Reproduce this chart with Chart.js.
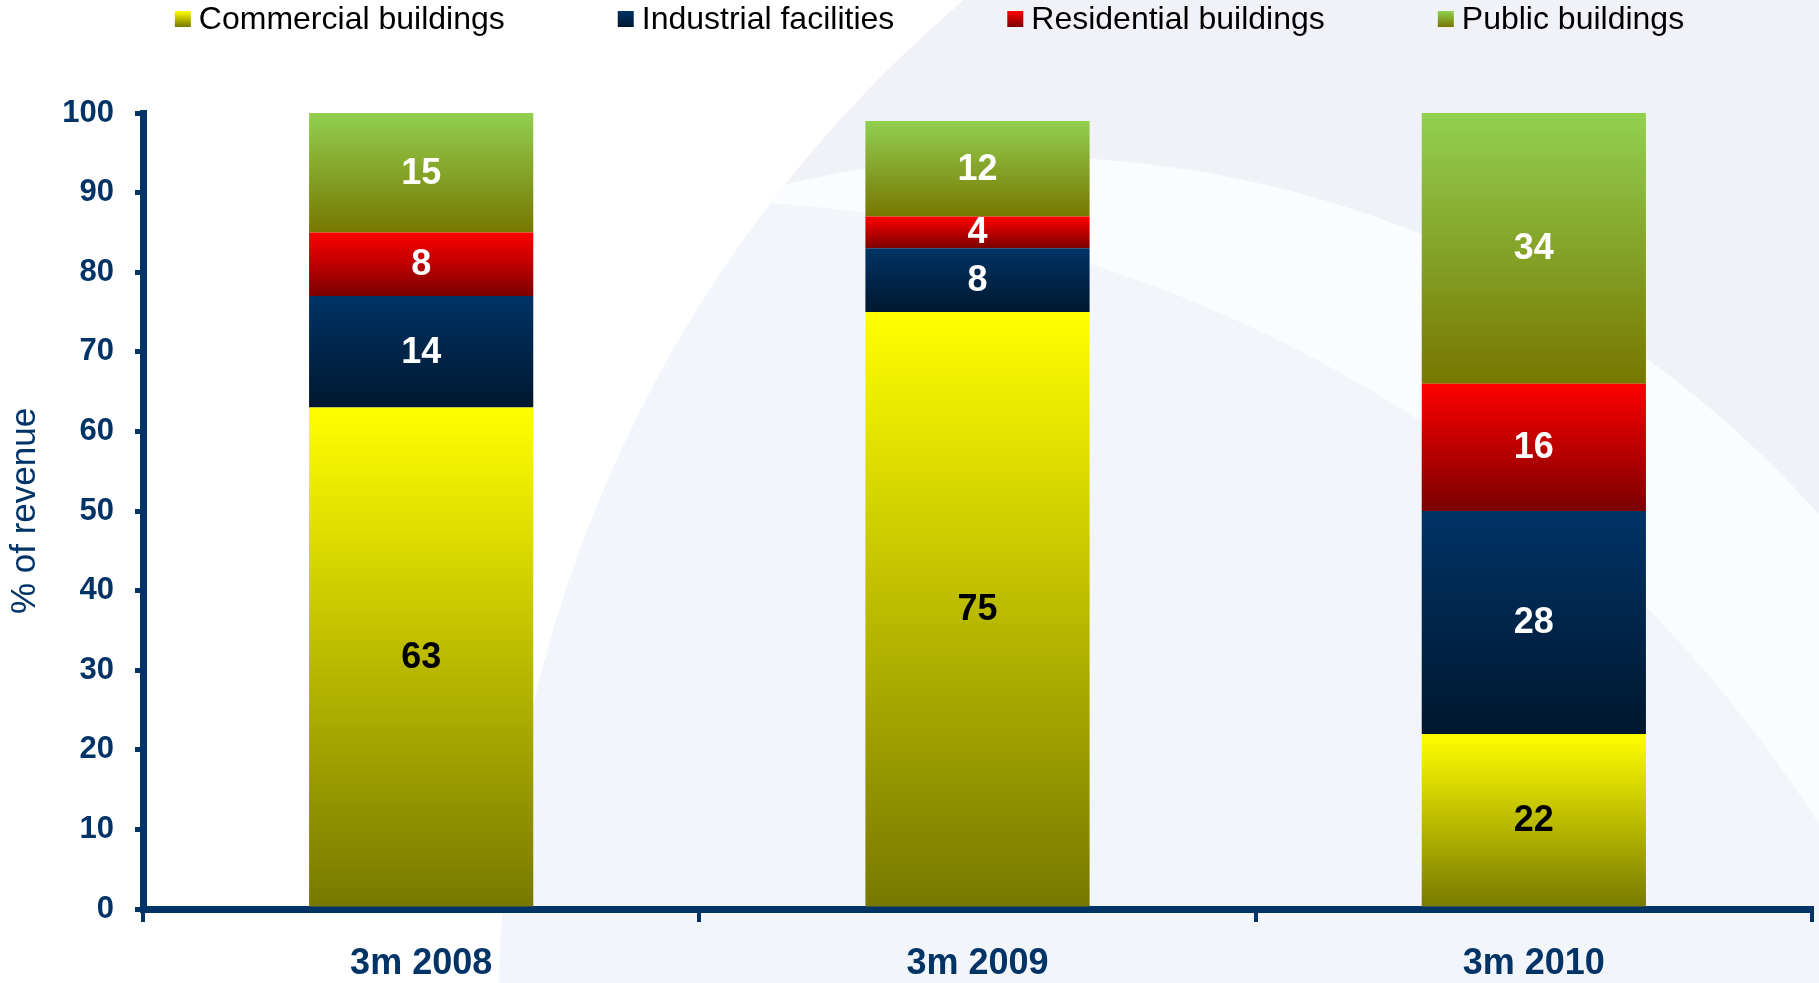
<!DOCTYPE html>
<html>
<head>
<meta charset="utf-8">
<title>% of revenue by segment</title>
<script src="https://cdn.jsdelivr.net/npm/chart.js@4.4.1/dist/chart.umd.min.js"></script>
<style>
  html, body { margin: 0; padding: 0; background: #fff; }
  #wrap { width: 1819px; height: 983px; position: relative; }
</style>
</head>
<body>
<div id="wrap"><canvas id="chart"></canvas></div>
<script>
// data
var categories = ['3m 2008', '3m 2009', '3m 2010'];
var seriesNames = ['Commercial buildings', 'Industrial facilities', 'Residential buildings', 'Public buildings'];
var commercial = [63, 75, 22];
var industrial = [14, 8, 28];
var residential = [8, 4, 16];
var publicB = [15, 12, 34];
var yMin = 0, yMax = 100, yStep = 10;

var series = [commercial, industrial, residential, publicB];
// top colour / bottom colour of each segment's gradient
var shades = [['#ffff00', '#777700'], ['#003366', '#00172e'], ['#ff0000', '#7a0000'], ['#92d050', '#777700']];
var labelInk = ['#000000', '#ffffff', '#ffffff', '#ffffff'];
var navy = '#003366';
var FONT = '"Liberation Sans", Arial, sans-serif';

function segFill(i) {
  return function(ctx) {
    var chart = ctx.chart;
    var y = chart.scales.y;
    if (ctx.type !== 'data' || !y) return shades[i][0];
    var start = 0;
    for (var k = 0; k < ctx.datasetIndex; k++) start += series[k][ctx.dataIndex];
    var end = start + series[ctx.datasetIndex][ctx.dataIndex];
    var y0 = y.getPixelForValue(end), y1 = y.getPixelForValue(start);
    if (!isFinite(y0) || !isFinite(y1) || y0 === y1) return shades[i][0];
    var g = chart.ctx.createLinearGradient(0, y0, 0, y1);
    g.addColorStop(0, shades[i][0]);
    g.addColorStop(1, shades[i][1]);
    return g;
  };
}

// soft swoosh behind the chart
var backdrop = {
  id: 'backdrop',
  beforeDraw: function(chart) {
    var c = chart.ctx;
    c.save();
    c.fillStyle = '#ffffff';
    c.fillRect(0, 0, chart.width, chart.height);
    c.beginPath();
    c.arc(1816, 1004, 1317, 0, Math.PI * 2);
    c.fillStyle = '#f0f2f7';
    c.fill();
    c.clip();
    c.beginPath();
    c.arc(1024, 1219, 1062, 0, Math.PI * 2);
    c.fillStyle = '#fbfcfe';
    c.fill();
    c.beginPath();
    c.arc(679, 1553, 1353, 0, Math.PI * 2);
    c.fillStyle = '#f2f5f9';
    c.fill();
    c.restore();
  }
};

// numbers in the middle of each segment
var segLabels = {
  id: 'segLabels',
  afterDatasetsDraw: function(chart) {
    var c = chart.ctx;
    c.save();
    c.font = 'bold 36px ' + FONT;
    c.textAlign = 'center';
    c.textBaseline = 'middle';
    chart.data.datasets.forEach(function(ds, i) {
      chart.getDatasetMeta(i).data.forEach(function(bar, j) {
        c.fillStyle = labelInk[i];
        c.fillText(String(ds.data[j]), bar.x, (bar.y + bar.base) / 2 + 1);
      });
    });
    c.restore();
  }
};

// legend row across the top
var legendRow = {
  id: 'legendRow',
  afterDraw: function(chart) {
    var c = chart.ctx;
    c.save();
    c.font = '32px ' + FONT;
    var box = 16, gap = 8, pad = 113;
    var widths = seriesNames.map(function(n) { return c.measureText(n).width; });
    var total = pad * (widths.length - 1);
    widths.forEach(function(w) { total += box + gap + w; });
    var x = (chart.width - total) / 2 + 20;
    seriesNames.forEach(function(name, i) {
      var lg = c.createLinearGradient(0, 11, 0, 27);
      lg.addColorStop(0, shades[i][0]);
      lg.addColorStop(1, shades[i][1]);
      c.fillStyle = lg;
      c.fillRect(x, 11, box, 16);
      c.fillStyle = '#000000';
      c.textBaseline = 'alphabetic';
      c.fillText(name, x + box + gap, 29);
      x += box + gap + widths[i] + pad;
    });
    c.restore();
  }
};

var chart = new Chart('chart', {
  type: 'bar',
  data: {
    labels: categories,
    datasets: series.map(function(vals, i) {
      return {
        label: seriesNames[i],
        data: vals,
        backgroundColor: segFill(i),
        borderWidth: 0,
        barPercentage: 0.403,
        categoryPercentage: 1.0
      };
    })
  },
  options: {
    responsive: true,
    maintainAspectRatio: false,
    animation: false,
    layout: { padding: { top: 113, right: 7, left: 0, bottom: 0 } },
    plugins: {
      legend: { display: false },
      tooltip: { enabled: false }
    },
    scales: {
      x: {
        stacked: true,
        afterFit: function(s) { s.height = 74; },
        border: { display: true, color: navy, width: 7 },
        grid: { drawOnChartArea: false, drawTicks: true, tickLength: 13, lineWidth: 4, color: navy },
        ticks: { color: navy, font: { family: FONT, size: 36, weight: 'bold' }, padding: 20 }
      },
      y: {
        stacked: true,
        min: yMin,
        max: yMax,
        afterFit: function(s) { s.width = 143; },
        border: { display: true, color: navy, width: 7 },
        grid: { drawOnChartArea: false, drawTicks: true, tickLength: 8, lineWidth: 5, color: navy },
        ticks: { stepSize: yStep, color: navy, font: { family: FONT, size: 31, weight: 'bold' }, padding: 21 },
        title: {
          display: true,
          text: '% of revenue',
          color: navy,
          font: { family: FONT, size: 35 },
          padding: { top: 4, bottom: 0 }
        }
      }
    }
  },
  plugins: [backdrop, segLabels, legendRow]
});
</script>
</body>
</html>
